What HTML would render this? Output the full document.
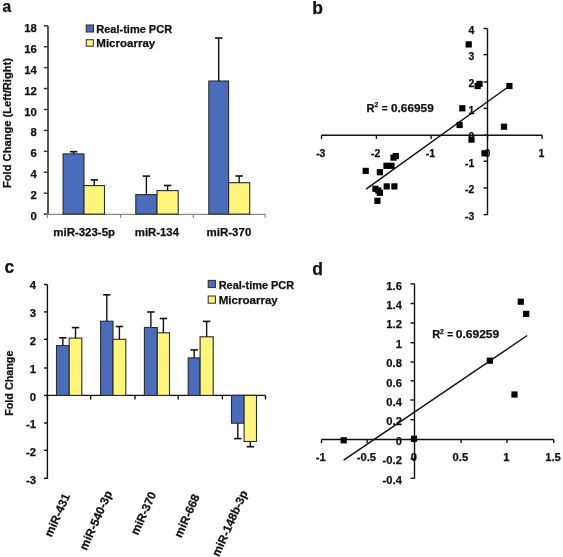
<!DOCTYPE html>
<html><head><meta charset="utf-8"><style>
html,body{margin:0;padding:0;background:#fff;}
svg{display:block;font-family:"Liberation Sans", sans-serif;filter:blur(0.5px);}
text{fill:#111;stroke:#111;stroke-width:0.25px;}
</style></head><body>
<svg width="563" height="557" viewBox="0 0 563 557">
<rect width="563" height="557" fill="#fff"/>
<text x="2.60" y="11.90" font-size="15.6" font-weight="bold">a</text>
<line x1="48.00" y1="25.90" x2="48.00" y2="214.60" stroke="#3a3a3a" stroke-width="1.7"/>
<line x1="43.80" y1="214.10" x2="48.00" y2="214.10" stroke="#3a3a3a" stroke-width="1.5"/>
<text x="36.80" y="220.00" font-size="11.3" font-weight="bold" text-anchor="end">0</text>
<line x1="43.80" y1="193.18" x2="48.00" y2="193.18" stroke="#3a3a3a" stroke-width="1.5"/>
<text x="36.80" y="199.10" font-size="11.3" font-weight="bold" text-anchor="end">2</text>
<line x1="43.80" y1="172.26" x2="48.00" y2="172.26" stroke="#3a3a3a" stroke-width="1.5"/>
<text x="36.80" y="178.20" font-size="11.3" font-weight="bold" text-anchor="end">4</text>
<line x1="43.80" y1="151.34" x2="48.00" y2="151.34" stroke="#3a3a3a" stroke-width="1.5"/>
<text x="36.80" y="157.30" font-size="11.3" font-weight="bold" text-anchor="end">6</text>
<line x1="43.80" y1="130.42" x2="48.00" y2="130.42" stroke="#3a3a3a" stroke-width="1.5"/>
<text x="36.80" y="136.40" font-size="11.3" font-weight="bold" text-anchor="end">8</text>
<line x1="43.80" y1="109.50" x2="48.00" y2="109.50" stroke="#3a3a3a" stroke-width="1.5"/>
<text x="36.80" y="115.50" font-size="11.3" font-weight="bold" text-anchor="end">10</text>
<line x1="43.80" y1="88.58" x2="48.00" y2="88.58" stroke="#3a3a3a" stroke-width="1.5"/>
<text x="36.80" y="94.60" font-size="11.3" font-weight="bold" text-anchor="end">12</text>
<line x1="43.80" y1="67.66" x2="48.00" y2="67.66" stroke="#3a3a3a" stroke-width="1.5"/>
<text x="36.80" y="73.70" font-size="11.3" font-weight="bold" text-anchor="end">14</text>
<line x1="43.80" y1="46.74" x2="48.00" y2="46.74" stroke="#3a3a3a" stroke-width="1.5"/>
<text x="36.80" y="52.80" font-size="11.3" font-weight="bold" text-anchor="end">16</text>
<line x1="43.80" y1="25.82" x2="48.00" y2="25.82" stroke="#3a3a3a" stroke-width="1.5"/>
<text x="36.80" y="31.90" font-size="11.3" font-weight="bold" text-anchor="end">18</text>
<line x1="48.00" y1="214.40" x2="265.40" y2="214.40" stroke="#8a8a8a" stroke-width="1.2"/>
<line x1="47.30" y1="214.10" x2="47.30" y2="218.00" stroke="#8a8a8a" stroke-width="1.2"/>
<line x1="120.60" y1="214.10" x2="120.60" y2="218.00" stroke="#8a8a8a" stroke-width="1.2"/>
<line x1="193.30" y1="214.10" x2="193.30" y2="218.00" stroke="#8a8a8a" stroke-width="1.2"/>
<line x1="265.20" y1="214.10" x2="265.20" y2="218.00" stroke="#8a8a8a" stroke-width="1.2"/>
<rect x="63.10" y="153.90" width="20.90" height="60.20" fill="#4a6cbd" stroke="#2b2b2b" stroke-width="1.1"/>
<line x1="73.55" y1="153.90" x2="73.55" y2="151.70" stroke="#111" stroke-width="1.4"/>
<line x1="69.85" y1="151.70" x2="77.25" y2="151.70" stroke="#111" stroke-width="1.6"/>
<rect x="84.00" y="185.60" width="20.50" height="28.50" fill="#fdf67a" stroke="#2b2b2b" stroke-width="1.1"/>
<line x1="94.25" y1="185.60" x2="94.25" y2="179.90" stroke="#111" stroke-width="1.4"/>
<line x1="90.55" y1="179.90" x2="97.95" y2="179.90" stroke="#111" stroke-width="1.6"/>
<rect x="135.80" y="194.60" width="21.20" height="19.50" fill="#4a6cbd" stroke="#2b2b2b" stroke-width="1.1"/>
<line x1="146.40" y1="194.60" x2="146.40" y2="176.10" stroke="#111" stroke-width="1.4"/>
<line x1="142.70" y1="176.10" x2="150.10" y2="176.10" stroke="#111" stroke-width="1.6"/>
<rect x="157.00" y="190.60" width="21.20" height="23.50" fill="#fdf67a" stroke="#2b2b2b" stroke-width="1.1"/>
<line x1="167.60" y1="190.60" x2="167.60" y2="185.50" stroke="#111" stroke-width="1.4"/>
<line x1="163.90" y1="185.50" x2="171.30" y2="185.50" stroke="#111" stroke-width="1.6"/>
<rect x="208.80" y="81.00" width="19.80" height="133.10" fill="#4a6cbd" stroke="#2b2b2b" stroke-width="1.1"/>
<line x1="218.70" y1="81.00" x2="218.70" y2="38.00" stroke="#111" stroke-width="1.4"/>
<line x1="215.00" y1="38.00" x2="222.40" y2="38.00" stroke="#111" stroke-width="1.6"/>
<rect x="228.60" y="182.70" width="21.10" height="31.40" fill="#fdf67a" stroke="#2b2b2b" stroke-width="1.1"/>
<line x1="239.15" y1="182.70" x2="239.15" y2="176.00" stroke="#111" stroke-width="1.4"/>
<line x1="235.45" y1="176.00" x2="242.85" y2="176.00" stroke="#111" stroke-width="1.6"/>
<text x="11.20" y="123.00" font-size="11.3" font-weight="bold" text-anchor="middle" textLength="130.00" lengthAdjust="spacingAndGlyphs" transform="rotate(-90 11.20 123.00)">Fold Change (Left/Right)</text>
<rect x="86.20" y="25.00" width="7.30" height="7.00" fill="#4a6cbd" stroke="#2b2b2b" stroke-width="1"/>
<rect x="86.30" y="39.70" width="7.00" height="6.50" fill="#fdf67a" stroke="#2b2b2b" stroke-width="1"/>
<text x="96.30" y="33.10" font-size="11.3" font-weight="bold" textLength="75.80" lengthAdjust="spacingAndGlyphs">Real-time PCR</text>
<text x="96.30" y="47.00" font-size="11.3" font-weight="bold" textLength="59.00" lengthAdjust="spacingAndGlyphs">Microarray</text>
<text x="53.30" y="235.50" font-size="11.3" font-weight="bold" textLength="61.70" lengthAdjust="spacingAndGlyphs">miR-323-5p</text>
<text x="134.80" y="235.50" font-size="11.3" font-weight="bold" textLength="44.20" lengthAdjust="spacingAndGlyphs">miR-134</text>
<text x="206.60" y="235.50" font-size="11.3" font-weight="bold" textLength="44.70" lengthAdjust="spacingAndGlyphs">miR-370</text>
<text x="312.30" y="14.00" font-size="17.5" font-weight="bold">b</text>
<line x1="487.50" y1="28.50" x2="487.50" y2="215.10" stroke="#111111" stroke-width="1.4"/>
<line x1="483.50" y1="28.50" x2="487.50" y2="28.50" stroke="#111111" stroke-width="1.4"/>
<text x="474.40" y="33.90" font-size="10.5" font-weight="bold" text-anchor="end">4</text>
<line x1="483.50" y1="54.60" x2="487.50" y2="54.60" stroke="#111111" stroke-width="1.4"/>
<text x="474.40" y="60.49" font-size="10.5" font-weight="bold" text-anchor="end">3</text>
<line x1="483.50" y1="82.00" x2="487.50" y2="82.00" stroke="#111111" stroke-width="1.4"/>
<text x="474.40" y="87.08" font-size="10.5" font-weight="bold" text-anchor="end">2</text>
<line x1="483.50" y1="108.40" x2="487.50" y2="108.40" stroke="#111111" stroke-width="1.4"/>
<text x="474.40" y="113.67" font-size="10.5" font-weight="bold" text-anchor="end">1</text>
<line x1="483.50" y1="135.20" x2="487.50" y2="135.20" stroke="#111111" stroke-width="1.4"/>
<text x="474.40" y="140.26" font-size="10.5" font-weight="bold" text-anchor="end">0</text>
<line x1="483.50" y1="161.20" x2="487.50" y2="161.20" stroke="#111111" stroke-width="1.4"/>
<text x="474.40" y="166.85" font-size="10.5" font-weight="bold" text-anchor="end">-1</text>
<line x1="483.50" y1="187.90" x2="487.50" y2="187.90" stroke="#111111" stroke-width="1.4"/>
<text x="474.40" y="193.44" font-size="10.5" font-weight="bold" text-anchor="end">-2</text>
<line x1="483.50" y1="214.60" x2="487.50" y2="214.60" stroke="#111111" stroke-width="1.4"/>
<text x="474.40" y="220.03" font-size="10.5" font-weight="bold" text-anchor="end">-3</text>
<line x1="321.50" y1="135.20" x2="542.10" y2="135.20" stroke="#111111" stroke-width="1.4"/>
<line x1="321.50" y1="135.20" x2="321.50" y2="138.90" stroke="#111111" stroke-width="1.4"/>
<text x="320.80" y="156.60" font-size="10.5" font-weight="bold" text-anchor="middle">-3</text>
<line x1="376.40" y1="135.20" x2="376.40" y2="138.90" stroke="#111111" stroke-width="1.4"/>
<text x="375.70" y="156.60" font-size="10.5" font-weight="bold" text-anchor="middle">-2</text>
<line x1="431.10" y1="135.20" x2="431.10" y2="138.90" stroke="#111111" stroke-width="1.4"/>
<text x="430.40" y="156.60" font-size="10.5" font-weight="bold" text-anchor="middle">-1</text>
<line x1="487.50" y1="135.20" x2="487.50" y2="138.90" stroke="#111111" stroke-width="1.4"/>
<text x="487.40" y="156.50" font-size="10.5" font-weight="bold" text-anchor="middle">0</text>
<line x1="542.10" y1="135.20" x2="542.10" y2="138.90" stroke="#111111" stroke-width="1.4"/>
<text x="541.40" y="156.60" font-size="10.5" font-weight="bold" text-anchor="middle">1</text>
<line x1="366.10" y1="189.10" x2="509.40" y2="86.00" stroke="#111" stroke-width="1.5"/>
<rect x="362.60" y="167.80" width="6.2" height="6.2" fill="#000"/>
<rect x="376.80" y="169.10" width="6.2" height="6.2" fill="#000"/>
<rect x="383.40" y="162.70" width="6.2" height="6.2" fill="#000"/>
<rect x="388.40" y="162.70" width="6.2" height="6.2" fill="#000"/>
<rect x="390.40" y="154.50" width="6.2" height="6.2" fill="#000"/>
<rect x="392.70" y="153.00" width="6.2" height="6.2" fill="#000"/>
<rect x="372.30" y="185.70" width="6.2" height="6.2" fill="#000"/>
<rect x="375.20" y="187.40" width="6.2" height="6.2" fill="#000"/>
<rect x="376.80" y="189.70" width="6.2" height="6.2" fill="#000"/>
<rect x="383.60" y="183.30" width="6.2" height="6.2" fill="#000"/>
<rect x="391.30" y="183.30" width="6.2" height="6.2" fill="#000"/>
<rect x="374.30" y="197.70" width="6.2" height="6.2" fill="#000"/>
<rect x="465.60" y="41.30" width="6.2" height="6.2" fill="#000"/>
<rect x="474.50" y="82.90" width="6.2" height="6.2" fill="#000"/>
<rect x="476.40" y="80.80" width="6.2" height="6.2" fill="#000"/>
<rect x="506.30" y="82.90" width="6.2" height="6.2" fill="#000"/>
<rect x="459.20" y="105.20" width="6.2" height="6.2" fill="#000"/>
<rect x="456.50" y="121.90" width="6.2" height="6.2" fill="#000"/>
<rect x="468.40" y="136.50" width="6.2" height="6.2" fill="#000"/>
<rect x="500.90" y="123.60" width="6.2" height="6.2" fill="#000"/>
<rect x="481.40" y="150.20" width="6.2" height="6.2" fill="#000"/>
<text x="366.60" y="111.70" font-size="11.0" font-weight="bold">R</text>
<text x="374.50" y="107.30" font-size="6.8" font-weight="bold">2</text>
<text x="384.75" y="111.50" font-size="10.0" font-weight="bold" text-anchor="middle">=</text>
<text x="391.00" y="111.70" font-size="11.3" font-weight="bold" textLength="42.80" lengthAdjust="spacingAndGlyphs">0.66959</text>
<text x="4.40" y="272.90" font-size="17.5" font-weight="bold">c</text>
<line x1="47.40" y1="284.50" x2="47.40" y2="478.80" stroke="#111111" stroke-width="1.4"/>
<line x1="44.00" y1="284.50" x2="47.40" y2="284.50" stroke="#111111" stroke-width="1.4"/>
<text x="36.10" y="289.40" font-size="11.3" font-weight="bold" text-anchor="end">4</text>
<line x1="44.00" y1="311.90" x2="47.40" y2="311.90" stroke="#111111" stroke-width="1.4"/>
<text x="36.10" y="317.21" font-size="11.3" font-weight="bold" text-anchor="end">3</text>
<line x1="44.00" y1="339.30" x2="47.40" y2="339.30" stroke="#111111" stroke-width="1.4"/>
<text x="36.10" y="345.02" font-size="11.3" font-weight="bold" text-anchor="end">2</text>
<line x1="44.00" y1="368.00" x2="47.40" y2="368.00" stroke="#111111" stroke-width="1.4"/>
<text x="36.10" y="372.83" font-size="11.3" font-weight="bold" text-anchor="end">1</text>
<line x1="44.00" y1="395.40" x2="47.40" y2="395.40" stroke="#111111" stroke-width="1.4"/>
<text x="36.10" y="400.64" font-size="11.3" font-weight="bold" text-anchor="end">0</text>
<line x1="44.00" y1="423.00" x2="47.40" y2="423.00" stroke="#111111" stroke-width="1.4"/>
<text x="36.10" y="428.45" font-size="11.3" font-weight="bold" text-anchor="end">-1</text>
<line x1="44.00" y1="450.30" x2="47.40" y2="450.30" stroke="#111111" stroke-width="1.4"/>
<text x="36.10" y="456.26" font-size="11.3" font-weight="bold" text-anchor="end">-2</text>
<line x1="44.00" y1="478.30" x2="47.40" y2="478.30" stroke="#111111" stroke-width="1.4"/>
<text x="36.10" y="484.07" font-size="11.3" font-weight="bold" text-anchor="end">-3</text>
<line x1="47.40" y1="395.40" x2="265.50" y2="395.40" stroke="#111111" stroke-width="1.4"/>
<line x1="47.40" y1="395.40" x2="47.40" y2="399.40" stroke="#111111" stroke-width="1.4"/>
<line x1="90.70" y1="395.40" x2="90.70" y2="399.40" stroke="#111111" stroke-width="1.4"/>
<line x1="135.00" y1="395.40" x2="135.00" y2="399.40" stroke="#111111" stroke-width="1.4"/>
<line x1="178.20" y1="395.40" x2="178.20" y2="399.40" stroke="#111111" stroke-width="1.4"/>
<line x1="222.40" y1="395.40" x2="222.40" y2="399.40" stroke="#111111" stroke-width="1.4"/>
<line x1="265.50" y1="395.40" x2="265.50" y2="399.40" stroke="#111111" stroke-width="1.4"/>
<rect x="56.50" y="345.60" width="12.70" height="49.80" fill="#4a6cbd" stroke="#2b2b2b" stroke-width="1.1"/>
<line x1="62.85" y1="345.60" x2="62.85" y2="337.80" stroke="#111" stroke-width="1.4"/>
<line x1="59.15" y1="337.80" x2="66.55" y2="337.80" stroke="#111" stroke-width="1.6"/>
<rect x="69.20" y="338.10" width="12.60" height="57.30" fill="#fdf67a" stroke="#2b2b2b" stroke-width="1.1"/>
<line x1="75.50" y1="338.10" x2="75.50" y2="327.60" stroke="#111" stroke-width="1.4"/>
<line x1="71.80" y1="327.60" x2="79.20" y2="327.60" stroke="#111" stroke-width="1.6"/>
<rect x="100.60" y="321.20" width="12.40" height="74.20" fill="#4a6cbd" stroke="#2b2b2b" stroke-width="1.1"/>
<line x1="106.80" y1="321.20" x2="106.80" y2="294.80" stroke="#111" stroke-width="1.4"/>
<line x1="103.10" y1="294.80" x2="110.50" y2="294.80" stroke="#111" stroke-width="1.6"/>
<rect x="113.00" y="339.30" width="12.80" height="56.10" fill="#fdf67a" stroke="#2b2b2b" stroke-width="1.1"/>
<line x1="119.40" y1="339.30" x2="119.40" y2="326.50" stroke="#111" stroke-width="1.4"/>
<line x1="115.70" y1="326.50" x2="123.10" y2="326.50" stroke="#111" stroke-width="1.6"/>
<rect x="144.40" y="327.50" width="12.90" height="67.90" fill="#4a6cbd" stroke="#2b2b2b" stroke-width="1.1"/>
<line x1="150.85" y1="327.50" x2="150.85" y2="312.00" stroke="#111" stroke-width="1.4"/>
<line x1="147.15" y1="312.00" x2="154.55" y2="312.00" stroke="#111" stroke-width="1.6"/>
<rect x="157.30" y="332.80" width="12.20" height="62.60" fill="#fdf67a" stroke="#2b2b2b" stroke-width="1.1"/>
<line x1="163.40" y1="332.80" x2="163.40" y2="318.50" stroke="#111" stroke-width="1.4"/>
<line x1="159.70" y1="318.50" x2="167.10" y2="318.50" stroke="#111" stroke-width="1.6"/>
<rect x="188.20" y="357.90" width="11.90" height="37.50" fill="#4a6cbd" stroke="#2b2b2b" stroke-width="1.1"/>
<line x1="194.15" y1="357.90" x2="194.15" y2="349.90" stroke="#111" stroke-width="1.4"/>
<line x1="190.45" y1="349.90" x2="197.85" y2="349.90" stroke="#111" stroke-width="1.6"/>
<rect x="200.10" y="336.80" width="13.10" height="58.60" fill="#fdf67a" stroke="#2b2b2b" stroke-width="1.1"/>
<line x1="206.65" y1="336.80" x2="206.65" y2="321.40" stroke="#111" stroke-width="1.4"/>
<line x1="202.95" y1="321.40" x2="210.35" y2="321.40" stroke="#111" stroke-width="1.6"/>
<rect x="231.50" y="395.40" width="12.60" height="27.80" fill="#4a6cbd" stroke="#2b2b2b" stroke-width="1.1"/>
<line x1="237.80" y1="423.20" x2="237.80" y2="438.60" stroke="#111" stroke-width="1.4"/>
<line x1="234.10" y1="438.60" x2="241.50" y2="438.60" stroke="#111" stroke-width="1.6"/>
<rect x="244.10" y="395.40" width="12.40" height="46.10" fill="#fdf67a" stroke="#2b2b2b" stroke-width="1.1"/>
<line x1="250.30" y1="441.50" x2="250.30" y2="446.70" stroke="#111" stroke-width="1.4"/>
<line x1="246.60" y1="446.70" x2="254.00" y2="446.70" stroke="#111" stroke-width="1.6"/>
<text x="13.00" y="383.20" font-size="11.3" font-weight="bold" text-anchor="middle" textLength="65.20" lengthAdjust="spacingAndGlyphs" transform="rotate(-90 13.00 383.20)">Fold Change</text>
<rect x="208.20" y="280.40" width="7.20" height="7.20" fill="#4a6cbd" stroke="#2b2b2b" stroke-width="1"/>
<rect x="208.20" y="296.00" width="7.20" height="7.20" fill="#fdf67a" stroke="#2b2b2b" stroke-width="1"/>
<text x="218.70" y="288.60" font-size="11.3" font-weight="bold" textLength="75.50" lengthAdjust="spacingAndGlyphs">Real-time PCR</text>
<text x="218.70" y="303.70" font-size="11.3" font-weight="bold" textLength="59.10" lengthAdjust="spacingAndGlyphs">Microarray</text>
<text x="70.30" y="495.80" font-size="11.8" font-weight="bold" text-anchor="end" transform="rotate(-66 70.30 495.80)">miR-431</text>
<text x="112.45" y="492.85" font-size="11.8" font-weight="bold" text-anchor="end" transform="rotate(-66 112.45 492.85)">miR-540-3p</text>
<text x="156.55" y="493.90" font-size="11.8" font-weight="bold" text-anchor="end" transform="rotate(-66 156.55 493.90)">miR-370</text>
<text x="200.00" y="496.50" font-size="11.8" font-weight="bold" text-anchor="end" transform="rotate(-66 200.00 496.50)">miR-668</text>
<text x="247.90" y="492.60" font-size="11.8" font-weight="bold" text-anchor="end" transform="rotate(-66 247.90 492.60)">miR-148b-3p</text>
<text x="312.30" y="275.30" font-size="17.5" font-weight="bold">d</text>
<line x1="414.50" y1="283.90" x2="414.50" y2="478.70" stroke="#111111" stroke-width="1.4"/>
<line x1="410.50" y1="283.90" x2="414.50" y2="283.90" stroke="#111111" stroke-width="1.4"/>
<text x="401.90" y="289.50" font-size="11.2" font-weight="bold" text-anchor="end">1.6</text>
<line x1="410.50" y1="303.50" x2="414.50" y2="303.50" stroke="#111111" stroke-width="1.4"/>
<text x="401.90" y="308.91" font-size="11.2" font-weight="bold" text-anchor="end">1.4</text>
<line x1="410.50" y1="323.00" x2="414.50" y2="323.00" stroke="#111111" stroke-width="1.4"/>
<text x="401.90" y="328.32" font-size="11.2" font-weight="bold" text-anchor="end">1.2</text>
<line x1="410.50" y1="342.70" x2="414.50" y2="342.70" stroke="#111111" stroke-width="1.4"/>
<text x="401.90" y="347.73" font-size="11.2" font-weight="bold" text-anchor="end">1</text>
<line x1="410.50" y1="362.00" x2="414.50" y2="362.00" stroke="#111111" stroke-width="1.4"/>
<text x="401.90" y="367.14" font-size="11.2" font-weight="bold" text-anchor="end">0.8</text>
<line x1="410.50" y1="380.80" x2="414.50" y2="380.80" stroke="#111111" stroke-width="1.4"/>
<text x="401.90" y="386.55" font-size="11.2" font-weight="bold" text-anchor="end">0.6</text>
<line x1="410.50" y1="400.00" x2="414.50" y2="400.00" stroke="#111111" stroke-width="1.4"/>
<text x="401.90" y="405.96" font-size="11.2" font-weight="bold" text-anchor="end">0.4</text>
<line x1="410.50" y1="419.70" x2="414.50" y2="419.70" stroke="#111111" stroke-width="1.4"/>
<text x="401.90" y="425.37" font-size="11.2" font-weight="bold" text-anchor="end">0.2</text>
<line x1="410.50" y1="439.50" x2="414.50" y2="439.50" stroke="#111111" stroke-width="1.4"/>
<text x="401.90" y="444.78" font-size="11.2" font-weight="bold" text-anchor="end">0</text>
<line x1="410.50" y1="458.90" x2="414.50" y2="458.90" stroke="#111111" stroke-width="1.4"/>
<text x="401.90" y="464.19" font-size="11.2" font-weight="bold" text-anchor="end">-0.2</text>
<line x1="410.50" y1="478.20" x2="414.50" y2="478.20" stroke="#111111" stroke-width="1.4"/>
<text x="401.90" y="483.60" font-size="11.2" font-weight="bold" text-anchor="end">-0.4</text>
<line x1="321.50" y1="439.50" x2="553.70" y2="439.50" stroke="#111111" stroke-width="1.4"/>
<line x1="321.50" y1="439.50" x2="321.50" y2="443.10" stroke="#111111" stroke-width="1.4"/>
<text x="320.80" y="461.30" font-size="11.2" font-weight="bold" text-anchor="middle">-1</text>
<line x1="367.10" y1="439.50" x2="367.10" y2="443.10" stroke="#111111" stroke-width="1.4"/>
<text x="366.40" y="461.30" font-size="11.2" font-weight="bold" text-anchor="middle">-0.5</text>
<line x1="414.50" y1="439.50" x2="414.50" y2="443.10" stroke="#111111" stroke-width="1.4"/>
<text x="413.80" y="461.30" font-size="11.2" font-weight="bold" text-anchor="middle">0</text>
<line x1="461.10" y1="439.50" x2="461.10" y2="443.10" stroke="#111111" stroke-width="1.4"/>
<text x="460.40" y="461.30" font-size="11.2" font-weight="bold" text-anchor="middle">0.5</text>
<line x1="507.00" y1="439.50" x2="507.00" y2="443.10" stroke="#111111" stroke-width="1.4"/>
<text x="506.30" y="461.30" font-size="11.2" font-weight="bold" text-anchor="middle">1</text>
<line x1="553.70" y1="439.50" x2="553.70" y2="443.10" stroke="#111111" stroke-width="1.4"/>
<text x="553.00" y="461.30" font-size="11.2" font-weight="bold" text-anchor="middle">1.5</text>
<line x1="343.70" y1="460.10" x2="527.20" y2="335.50" stroke="#111" stroke-width="1.5"/>
<rect x="340.60" y="437.20" width="6.2" height="6.2" fill="#000"/>
<rect x="410.90" y="435.70" width="6.2" height="6.2" fill="#000"/>
<rect x="517.70" y="298.60" width="6.2" height="6.2" fill="#000"/>
<rect x="523.10" y="310.80" width="6.2" height="6.2" fill="#000"/>
<rect x="486.80" y="357.60" width="6.2" height="6.2" fill="#000"/>
<rect x="511.40" y="391.40" width="6.2" height="6.2" fill="#000"/>
<text x="432.20" y="338.10" font-size="11.0" font-weight="bold">R</text>
<text x="439.90" y="333.70" font-size="6.8" font-weight="bold">2</text>
<text x="450.10" y="337.90" font-size="10.0" font-weight="bold" text-anchor="middle">=</text>
<text x="455.70" y="338.10" font-size="11.3" font-weight="bold" textLength="43.60" lengthAdjust="spacingAndGlyphs">0.69259</text>
</svg>
</body></html>
